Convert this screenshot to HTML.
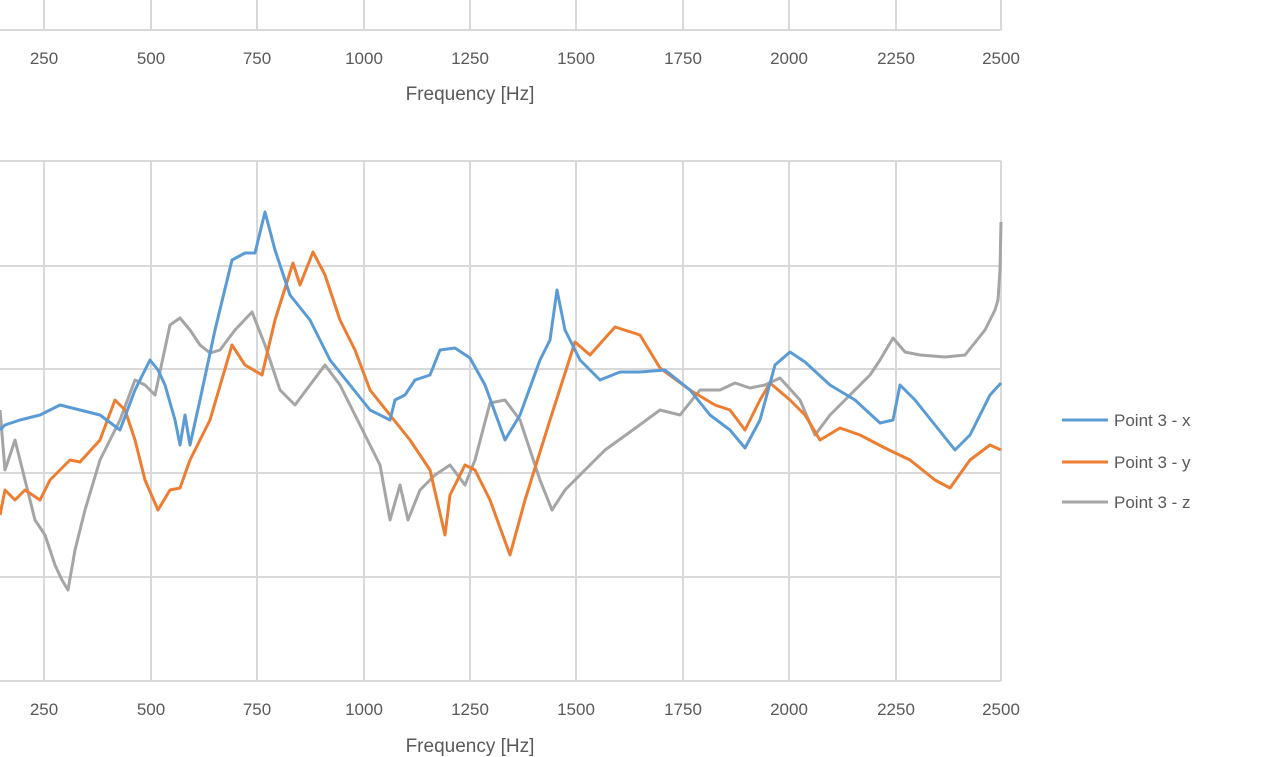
<!DOCTYPE html>
<html><head><meta charset="utf-8"><style>
html,body{margin:0;padding:0;background:#fff;}
svg{display:block;font-family:"Liberation Sans",sans-serif;}
text{fill:#595959;font-size:17px;}
</style></head><body>
<svg width="1279" height="757" viewBox="0 0 1279 757">
<g stroke="#d9d9d9" stroke-width="2" fill="none">
<!-- top chart -->
<path d="M44 0V30M151 0V30M257 0V30M364 0V30M470 0V30M576 0V30M683 0V30M789 0V30M896 0V30M1001 0V30"/>
<path d="M0 30H1001"/>
<!-- bottom chart -->
<path d="M44 161V681M151 161V681M257 161V681M364 161V681M470 161V681M576 161V681M683 161V681M789 161V681M896 161V681M1001 161V681"/>
<path d="M0 161H1001M0 266H1001M0 369H1001M0 473H1001M0 577H1001M0 681H1001"/>
</g>
<g text-anchor="middle">
<text x="44" y="64">250</text><text x="151" y="64">500</text><text x="257" y="64">750</text><text x="364" y="64">1000</text><text x="470" y="64">1250</text><text x="576" y="64">1500</text><text x="683" y="64">1750</text><text x="789" y="64">2000</text><text x="896" y="64">2250</text><text x="1001" y="64">2500</text>
<text x="470" y="100" style="font-size:19px">Frequency [Hz]</text>
<text x="44" y="715">250</text><text x="151" y="715">500</text><text x="257" y="715">750</text><text x="364" y="715">1000</text><text x="470" y="715">1250</text><text x="576" y="715">1500</text><text x="683" y="715">1750</text><text x="789" y="715">2000</text><text x="896" y="715">2250</text><text x="1001" y="715">2500</text>
<text x="470" y="752" style="font-size:19px">Frequency [Hz]</text>
</g>
<g fill="none" stroke-width="3" stroke-linejoin="round">
<polyline stroke="#a5a5a5" points="0,410 5,470 15,440 25,480 35,520 45,535 55,565 62,580 68,590 75,550 85,510 100,460 120,420 135,380 145,385 155,395 170,325 180,318 190,330 200,345 210,353 220,350 235,330 252,312 265,345 280,390 295,405 310,385 325,365 340,385 360,425 380,465 390,520 400,485 408,520 420,490 435,475 450,465 465,485 475,460 490,403 505,400 520,420 540,480 552,510 565,490 585,470 605,450 630,432 660,410 680,415 700,390 720,390 735,383 750,388 765,385 780,378 800,400 815,435 830,415 850,395 870,375 880,360 893,338 905,352 920,355 945,357 965,355 985,330 995,310 998,300 1000,270 1001,222"/>
<polyline stroke="#ed7d31" points="0,515 5,490 15,500 25,490 40,500 50,480 70,460 80,462 100,440 115,400 125,410 135,440 145,480 158,510 170,490 180,488 190,460 210,420 232,345 245,365 262,375 275,320 293,263 300,285 313,252 325,275 340,320 355,350 370,390 390,415 410,440 430,470 445,535 450,495 465,465 475,470 490,500 510,555 525,500 550,420 575,342 590,355 615,327 640,335 660,368 690,390 715,405 730,410 745,430 760,400 770,383 790,400 805,415 820,440 840,428 860,435 885,448 910,460 935,480 950,488 970,460 990,445 1001,450"/>
<polyline stroke="#5b9bd5" points="0,430 5,425 20,420 40,415 60,405 80,410 100,415 120,430 135,390 150,360 158,370 165,385 175,420 180,445 185,415 190,445 200,400 215,330 232,260 245,253 255,253 265,212 275,250 290,295 310,320 330,360 350,385 370,410 390,420 395,400 405,395 415,380 430,375 440,350 455,348 470,358 485,385 505,440 520,415 540,360 550,340 557,290 565,330 580,360 600,380 620,372 640,372 665,370 690,390 710,415 730,430 745,448 760,420 775,365 790,352 805,362 830,385 855,400 880,423 893,420 900,385 915,400 935,425 955,450 970,435 990,395 1001,383"/>
</g>
<g stroke-width="3">
<line x1="1062" y1="420" x2="1108" y2="420" stroke="#5b9bd5"/>
<line x1="1062" y1="462" x2="1108" y2="462" stroke="#ed7d31"/>
<line x1="1062" y1="502" x2="1108" y2="502" stroke="#a5a5a5"/>
</g>
<text x="1114" y="426">Point 3 - x</text>
<text x="1114" y="468">Point 3 - y</text>
<text x="1114" y="508">Point 3 - z</text>
</svg>
</body></html>
